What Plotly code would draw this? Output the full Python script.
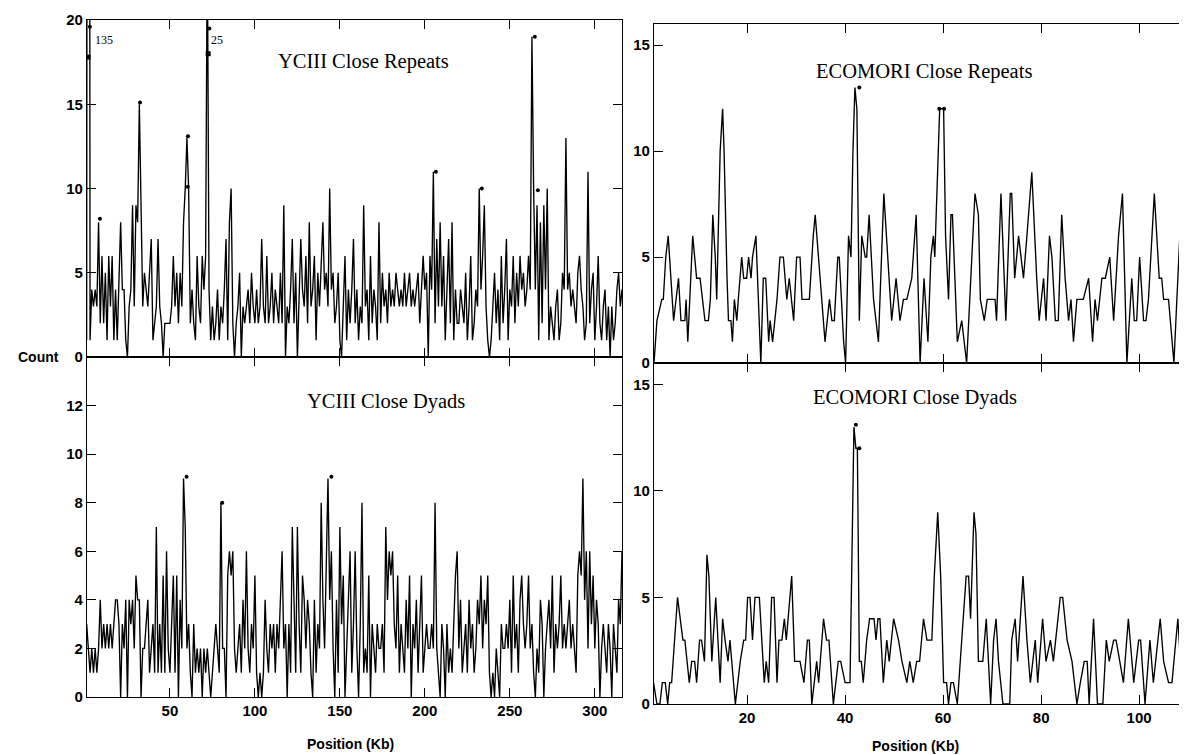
import plotly.graph_objects as go

# ---------------- data ----------------
yc_pos = list(range(1, 317))

yc_repeats = [
    1, 135, 1, 4, 3, 4, 3, 8, 2, 6,
    2, 5, 1, 6, 3, 6, 1, 4, 1, 5,
    8, 4, 4, 1, 0, 3, 4, 9, 3, 9,
    8, 15, 9, 3, 5, 4, 3, 5, 7, 1,
    2, 3, 7, 3, 2, 0, 2, 2, 2, 2,
    3, 6, 3, 5, 2, 5, 3, 8, 10, 13,
    10, 2, 4, 2, 1, 6, 3, 2, 6, 4,
    6, 25, 4, 1, 3, 1, 2, 4, 1, 3,
    2, 4, 7, 1, 8, 10, 2, 0, 2, 3,
    5, 0, 3, 2, 3, 4, 2, 5, 3, 2,
    4, 2, 3, 7, 3, 2, 6, 2, 3, 5,
    2, 4, 3, 2, 5, 2, 9, 0, 3, 2,
    4, 7, 2, 5, 0, 3, 7, 4, 3, 6,
    2, 8, 3, 4, 6, 1, 5, 3, 6, 8,
    4, 5, 3, 10, 4, 5, 2, 3, 5, 1,
    0, 3, 6, 1, 4, 2, 4, 7, 2, 4,
    1, 3, 2, 9, 3, 4, 1, 6, 2, 4,
    3, 1, 8, 2, 5, 3, 4, 2, 5, 3,
    4, 3, 5, 4, 3, 4, 3, 5, 3, 4,
    5, 3, 4, 3, 4, 5, 2, 4, 6, 4,
    5, 0, 6, 4, 11, 2, 7, 3, 8, 3,
    6, 1, 4, 7, 2, 8, 1, 4, 2, 2,
    4, 3, 2, 5, 1, 3, 6, 1, 2, 4,
    3, 10, 4, 6, 9, 3, 1, 0, 1, 3,
    5, 2, 4, 1, 6, 2, 4, 7, 1, 4,
    3, 6, 2, 5, 3, 6, 4, 5, 3, 4,
    6, 4, 19, 10, 4, 9, 1, 8, 2, 9,
    4, 10, 1, 3, 2, 1, 3, 4, 1, 2,
    5, 4, 13, 4, 5, 3, 4, 3, 2, 5,
    6, 4, 3, 1, 2, 11, 2, 4, 5, 1,
    3, 6, 2, 1, 3, 4, 1, 3, 0, 3,
    1, 2, 4, 5, 3, 4,
]

yc_dyads = [
    3, 2, 1, 2, 1, 2, 1, 2, 4, 2,
    3, 2, 3, 2, 3, 2, 3, 4, 4, 3,
    0, 3, 2, 4, 0, 4, 3, 4, 2, 5,
    4, 4, 0, 2, 2, 3, 4, 1, 2, 3,
    1, 7, 1, 3, 1, 5, 1, 6, 2, 1,
    3, 5, 1, 5, 0, 4, 2, 9, 7, 2,
    3, 1, 0, 3, 1, 2, 1, 2, 0, 2,
    1, 2, 1, 0, 1, 2, 3, 2, 1, 8,
    2, 2, 0, 5, 6, 5, 6, 2, 1, 2,
    3, 1, 4, 2, 6, 2, 1, 3, 2, 5,
    1, 0, 1, 0, 1, 4, 2, 1, 3, 2,
    3, 1, 3, 2, 4, 6, 2, 3, 0, 3,
    1, 7, 4, 1, 7, 3, 1, 5, 4, 2,
    4, 3, 1, 0, 4, 1, 3, 2, 8, 4,
    2, 6, 9, 4, 6, 2, 0, 4, 1, 7,
    3, 5, 0, 2, 4, 6, 1, 3, 6, 2,
    0, 3, 8, 1, 2, 1, 5, 0, 3, 2,
    1, 3, 2, 2, 3, 1, 7, 4, 6, 5,
    6, 3, 2, 5, 1, 3, 2, 1, 4, 2,
    5, 0, 3, 2, 4, 1, 3, 5, 1, 2,
    3, 2, 2, 3, 2, 8, 2, 1, 0, 3,
    2, 0, 3, 1, 2, 1, 3, 5, 6, 2,
    4, 1, 2, 3, 1, 4, 2, 3, 1, 2,
    4, 3, 5, 2, 4, 3, 5, 1, 0, 1,
    0, 2, 1, 0, 3, 2, 2, 3, 2, 4,
    1, 5, 2, 3, 1, 4, 5, 3, 2, 3,
    5, 2, 3, 1, 0, 2, 1, 4, 3, 0,
    2, 3, 4, 2, 5, 1, 3, 2, 3, 5,
    2, 3, 2, 3, 4, 2, 3, 2, 1, 5,
    6, 5, 9, 4, 6, 2, 6, 3, 5, 2,
    4, 3, 0, 2, 3, 2, 1, 3, 2, 0,
    3, 2, 1, 4, 3, 6,
]

eco_rep_pos = [
    1.0, 1.6, 2.6, 2.9, 3.4, 3.9, 5.0, 6.0, 6.5, 7.3, 7.55, 7.9, 8.9, 9.7, 10.4,
    11.4, 12.1, 12.5, 13.0, 13.5, 13.8, 14.2, 14.5, 15.0, 15.3, 15.9, 16.2, 16.7,
    17.0, 17.4, 17.9, 18.2, 18.9, 19.3, 19.9, 20.3, 20.8, 21.1, 21.8, 22.8, 23.3,
    23.8, 24.4, 24.7, 25.2, 26.1, 26.7, 27.4, 28.1, 28.6, 29.5, 30.1, 30.8, 31.2,
    32.7, 33.5, 33.9, 34.9, 35.9, 36.8, 37.3, 37.8, 38.5, 38.8, 39.7, 40.1, 40.7,
    41.2, 41.6, 42.0, 42.4, 42.9, 43.4, 44.1, 44.4, 44.9, 45.8, 46.8, 47.9, 49.5,
    50.4, 51.2, 51.9, 52.6, 53.6, 54.5, 55.3, 56.1, 56.9, 57.5, 58.0, 58.3, 59.3,
    60.1, 60.5, 61.1, 61.6, 61.9, 62.9, 63.8, 64.8, 66.5, 67.2, 67.6, 68.4, 69.0,
    70.6, 70.9, 71.8, 72.8, 73.7, 74.0, 74.6, 75.4, 76.4, 77.1, 78.1, 79.1, 79.6,
    80.5, 81.0, 81.7, 82.2, 82.9, 83.5, 84.2, 84.9, 85.6, 86.1, 86.6, 87.3, 88.6,
    89.7, 90.5, 91.0, 91.5, 92.4, 93.1, 94.0, 94.8, 95.8, 96.6, 97.5, 98.5, 99.0,
    99.5, 100.1, 100.9, 101.4, 101.9, 103.1, 104.1, 104.6, 105.0, 106.0, 107.1,
    108.7, 109.4, 110.2,
]
eco_rep_counts = [
    0, 2, 3, 3, 5, 6, 2, 4, 2, 2, 3, 1, 6, 4, 4,
    2, 2, 3, 7, 5, 3, 7, 10, 12, 10, 4, 2, 2,
    1, 3, 2, 3, 5, 4, 4, 5, 4, 5, 6, 0, 4,
    4, 1, 2, 1, 3, 5, 5, 3, 4, 2, 5, 5, 3,
    3, 6, 7, 4, 1, 3, 2, 2, 5, 5, 1, 0, 6,
    5, 10, 13, 12, 2, 6, 5, 5, 7, 3, 1, 8, 2,
    4, 2, 3, 3, 4, 7, 0, 4, 1, 5, 6, 5, 12,
    12, 6, 3, 7, 7, 1, 2, 0, 8, 7, 3, 2, 3,
    3, 2, 8, 2, 8, 8, 4, 6, 4, 6, 9, 4, 2,
    4, 2, 6, 5, 2, 2, 7, 4, 2, 3, 1, 3, 3,
    4, 1, 3, 2, 4, 4, 5, 2, 6, 8, 0, 4, 2,
    2, 5, 2, 2, 3, 8, 4, 4, 3, 3, 0,
    8, 4, 2,
]

eco_dyad_pos = [
    0.9, 1.6, 2.2, 2.7, 3.3, 3.8, 4.2, 4.6, 5.8, 6.9, 7.3, 8.2, 8.7, 9.3, 9.7,
    10.3, 10.7, 11.3, 11.8, 12.2, 12.8, 13.6, 14.5, 15.0, 15.5, 16.1, 16.5, 17.6,
    18.6, 19.3, 19.7, 20.1, 20.6, 21.1, 21.6, 22.5, 23.5, 23.9, 24.4, 25.0, 25.5,
    26.1, 26.5, 27.1, 27.6, 28.0, 29.1, 29.7, 30.8, 31.6, 32.3, 32.7, 33.2, 34.2,
    34.6, 35.6, 36.2, 36.7, 37.6, 38.6, 39.1, 40.0, 41.0, 41.5, 41.8, 42.2, 42.5,
    42.9, 43.3, 43.7, 44.4, 45.0, 45.9, 46.3, 46.7, 47.1, 47.8, 48.5, 49.0, 49.9,
    50.9, 51.6, 52.6, 53.2, 53.9, 54.6, 55.2, 56.0, 56.7, 57.7, 58.2, 58.9, 59.5,
    60.1, 60.7, 61.1, 61.6, 62.1, 62.9, 64.1, 64.7, 65.2, 65.6, 66.3, 66.7, 67.2,
    68.1, 68.8, 69.3, 69.7, 70.3, 70.8, 71.3, 72.2, 73.6, 74.0, 74.7, 75.2, 76.3,
    77.1, 77.8, 78.8, 79.3, 80.3, 81.0, 81.9, 82.5, 83.9, 84.4, 85.3, 86.3, 87.3,
    88.0, 88.8, 89.4, 89.8, 90.7, 91.5, 92.6, 93.3, 93.9, 94.8, 95.3, 96.1, 96.8,
    97.8, 98.9, 99.9, 100.3, 101.2, 102.2, 102.9, 104.3, 105.0, 106.0, 106.7,
    107.9, 108.7, 109.4, 109.9,
]
eco_dyad_counts = [
    1, 0, 0, 1, 1, 0, 1, 1, 5, 3, 3, 1, 2, 2, 1,
    3, 3, 2, 7, 6, 2, 5, 1, 4, 3, 2, 3, 0,
    2, 3, 3, 5, 5, 3, 5, 5, 1, 2, 1, 5, 5,
    1, 3, 3, 4, 3, 6, 2, 2, 1, 3, 3, 0, 2,
    1, 4, 3, 3, 0, 2, 2, 1, 1, 10, 13, 12, 12,
    2, 2, 1, 3, 4, 4, 3, 4, 4, 1, 3, 2, 4,
    3, 2, 1, 2, 1, 2, 2, 4, 3, 3, 6, 9, 6,
    1, 1, 0, 1, 1, 0, 4, 6, 6, 4, 9, 8, 2,
    2, 4, 2, 0, 3, 4, 2, 0, 0, 3, 4, 2, 6,
    3, 1, 3, 1, 4, 2, 3, 2, 5, 5, 3, 2, 0,
    1, 2, 2, 0, 4, 0, 0, 3, 2, 3, 3, 2, 1,
    4, 1, 3, 3, 0, 3, 1, 4, 2, 1, 1,
    4, 1, 1, 0,
]

# significance marks (asterisks)
yc_rep_star_x = [2.9, 8.8, 32.4, 60.6, 60.5, 73.2, 206.5, 233.5, 264.7, 266.5]
yc_rep_star_y = [19.6, 8.2, 15.1, 13.1, 10.1, 19.5, 11.0, 10.0, 19.0, 9.9]
yc_rep_sq_x = [1.8, 72.5]
yc_rep_sq_y = [17.8, 18.0]
yc_dy_star_x = [59.8, 80.8, 145.0]
yc_dy_star_y = [9.07, 8.0, 9.07]
eco_rep_star_x = [42.9, 59.2, 60.2]
eco_rep_star_y = [13.0, 12.0, 12.0]
eco_dy_star_x = [42.2, 42.9]
eco_dy_star_y = [13.1, 12.0]

offscale_labels = ["135", "25"]
offscale_x = [4.5, 73.0]

yc_xticks = [50, 100, 150, 200, 250, 300]
eco_xticks = [20, 40, 60, 80, 100]
yc_rep_yticks = [0, 5, 10, 15, 20]
yc_dy_yticks = [0, 2, 4, 6, 8, 10, 12]
eco_yticks = [0, 5, 10, 15]

# ---------------- figure ----------------
W, H = 1187, 755
OFF = 8  # the page body margin shifts the plot by this many pixels


def PX(px):
    return (px - OFF) / W


def PY(py):
    return 1 - (py - OFF) / H


fig = go.Figure()

line_style = dict(color="black", width=1.35)
star_style = dict(color="black", size=4, symbol="circle")

fig.add_trace(go.Scatter(x=yc_pos, y=yc_repeats, mode="lines", line=line_style, xaxis="x", yaxis="y"))
fig.add_trace(go.Scatter(x=yc_pos, y=yc_dyads, mode="lines", line=line_style, xaxis="x2", yaxis="y2"))
fig.add_trace(go.Scatter(x=eco_rep_pos, y=eco_rep_counts, mode="lines", line=line_style, xaxis="x3", yaxis="y3"))
fig.add_trace(go.Scatter(x=eco_dyad_pos, y=eco_dyad_counts, mode="lines", line=line_style, xaxis="x4", yaxis="y4"))

fig.add_trace(go.Scatter(x=yc_rep_star_x, y=yc_rep_star_y, mode="markers", marker=star_style, xaxis="x", yaxis="y"))
fig.add_trace(go.Scatter(x=yc_rep_sq_x, y=yc_rep_sq_y, mode="markers",
                         marker=dict(color="black", size=5, symbol="square"), xaxis="x", yaxis="y"))
fig.add_trace(go.Scatter(x=yc_dy_star_x, y=yc_dy_star_y, mode="markers", marker=star_style, xaxis="x2", yaxis="y2"))
fig.add_trace(go.Scatter(x=eco_rep_star_x, y=eco_rep_star_y, mode="markers", marker=star_style, xaxis="x3", yaxis="y3"))
fig.add_trace(go.Scatter(x=eco_dy_star_x, y=eco_dy_star_y, mode="markers", marker=star_style, xaxis="x4", yaxis="y4"))

tick_font = dict(family="Liberation Sans", size=15, color="black", weight="bold")


def xax(domain, rng, ticks, labels, anchor):
    return dict(domain=domain, range=rng, anchor=anchor, tickvals=ticks, automargin=False,
                showticklabels=labels, ticks="inside", ticklen=9, tickwidth=1.3,
                tickcolor="black", showline=True, linecolor="black", linewidth=1,
                mirror="ticks", showgrid=False, zeroline=False, tickfont=tick_font)


def yax(domain, rng, ticks, anchor):
    return dict(domain=domain, range=rng, anchor=anchor, tickvals=ticks, automargin=False,
                ticks="inside", ticklen=9, tickwidth=1.3, tickcolor="black",
                showline=True, linecolor="black", linewidth=1.3, mirror="ticks",
                showgrid=False, zeroline=False, tickfont=tick_font)


LX = [PX(87), PX(622)]
RX = [PX(654), 1.0]
LY_top = [PY(357), PY(20)]
LY_bot = [max(PY(697), 0), PY(357)]
RY_top = [PY(363), PY(24)]
RY_bot = [max(PY(704), 0), PY(363)]

fig.update_layout(
    width=W, height=H,
    margin=dict(l=0, r=0, t=0, b=0, autoexpand=False),
    paper_bgcolor="white", plot_bgcolor="white",
    showlegend=False,
    xaxis=xax(LX, [1.2, 316], yc_xticks, False, "y"),
    yaxis=yax(LY_top, [0, 20], yc_rep_yticks, "x"),
    xaxis2=xax(LX, [1.2, 316], yc_xticks, True, "y2"),
    yaxis2=yax(LY_bot, [0, 14], yc_dy_yticks, "x2"),
    xaxis3=xax(RX, [1, 111.4], eco_xticks, False, "y3"),
    yaxis3=yax(RY_top, [0, 16], eco_yticks, "x3"),
    xaxis4=xax(RX, [1, 111.4], eco_xticks, True, "y4"),
    yaxis4=yax(RY_bot, [0, 16], eco_yticks, "x4"),
)

title_font = dict(family="Liberation Serif", size=20.5, color="black")
ann = []


def txt(s, px, py, font):
    ann.append(dict(text=s, x=PX(px), y=PY(py), xref="paper", yref="paper",
                    xanchor="center", yanchor="middle", showarrow=False, font=font))


txt("YCIII Close Repeats", 363, 62, title_font)
txt("YCIII Close Dyads", 386, 402, title_font)
txt("ECOMORI Close Repeats", 924, 72, title_font)
txt("ECOMORI Close Dyads", 915, 397, title_font)
for lab, xv in zip(offscale_labels, offscale_x):
    ann.append(dict(text=lab, x=xv, y=18.8, xref="x", yref="y", xanchor="left",
                    showarrow=False, font=dict(family="Liberation Serif", size=12, color="black")))
lab_font = dict(family="Liberation Sans", size=14, color="black", weight="bold")
txt("Count", 38, 357, lab_font)
txt("Position (Kb)", 350, 744, lab_font)
txt("Position (Kb)", 915, 746, lab_font)
fig.update_layout(annotations=ann)

fig.write_html("out.html")
